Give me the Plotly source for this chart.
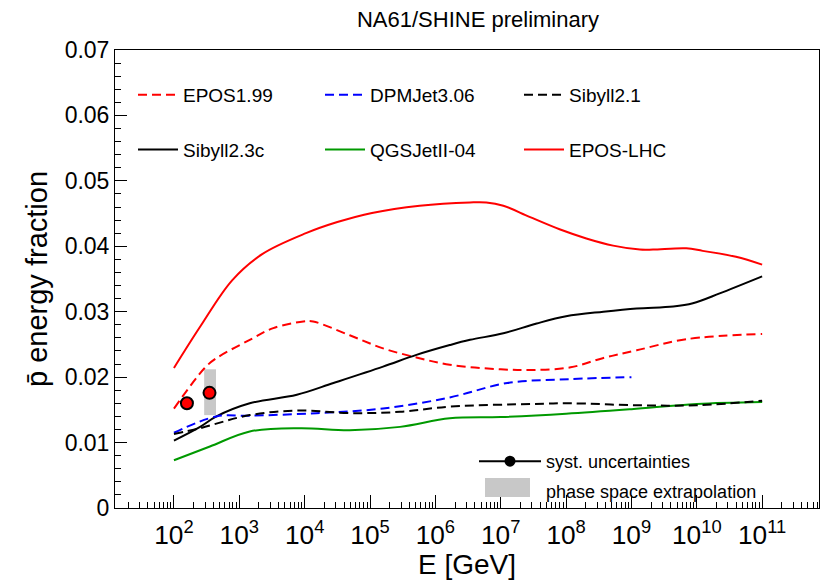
import numpy as np
import plotly.graph_objects as go

# log10(E / GeV) sampling points and antiproton energy fraction for each model
lgE_epos199 = [2.00, 2.47, 2.65, 3.16, 3.52, 3.98, 4.13, 4.69, 5.20, 5.71, 6.22, 7.0, 7.5, 8.07, 8.56, 9.08, 9.84, 11.0]
val_epos199 = [0.0152, 0.0214, 0.0229, 0.0257, 0.0275, 0.0285, 0.0285, 0.0264, 0.0244, 0.0230, 0.0219, 0.0212, 0.0211, 0.0215, 0.0229, 0.0241, 0.0258, 0.0266]

lgE_dpmjet = [2.00, 2.65, 3.16, 4.18, 5.20, 6.22, 7.1, 8.07, 9.0]
val_dpmjet = [0.0115, 0.0140, 0.0141, 0.0145, 0.0152, 0.0169, 0.0191, 0.0197, 0.0200]

lgE_sib21 = [2.00, 2.40, 3.16, 3.93, 4.69, 5.46, 6.22, 7.5, 8.07, 9.08, 10.0, 11.0]
val_sib21 = [0.0113, 0.0122, 0.0142, 0.0149, 0.0145, 0.0147, 0.0155, 0.0159, 0.0160, 0.0157, 0.0157, 0.0164]

lgE_sib23c = [2.00, 2.40, 2.65, 3.16, 3.88, 4.44, 5.20, 5.71, 6.22, 6.53, 7.04, 7.55, 8.00, 8.57, 9.08, 9.64, 9.94, 10.35, 11.0]
val_sib23c = [0.0103, 0.0124, 0.0140, 0.0160, 0.0173, 0.0191, 0.0216, 0.0234, 0.0249, 0.0257, 0.0267, 0.0282, 0.0293, 0.0300, 0.0305, 0.0308, 0.0313, 0.0328, 0.0354]

lgE_qgsjet = [2.00, 2.55, 3.16, 3.93, 4.69, 5.46, 6.22, 7.0, 8.0, 9.0, 10.0, 11.0]
val_qgsjet = [0.0073, 0.0094, 0.0117, 0.0122, 0.0119, 0.0124, 0.0137, 0.0139, 0.0144, 0.0151, 0.0159, 0.0162]

lgE_eposlhc = [2.00, 2.40, 2.89, 3.35, 4.02, 4.5, 5.03, 5.76, 6.53, 6.78, 7.04, 7.44, 7.90, 8.31, 8.72, 9.13, 9.33, 9.84, 10.09, 10.60, 11.0]
val_eposlhc = [0.0214, 0.0277, 0.0348, 0.0388, 0.0420, 0.0437, 0.0451, 0.0462, 0.0467, 0.0467, 0.0462, 0.0445, 0.0426, 0.0412, 0.0401, 0.0395, 0.0395, 0.0397, 0.0393, 0.0384, 0.0372]

# NA61/SHINE measurements
data_E = [158, 350]
data_val = [0.0160, 0.0176]

# phase-space extrapolation band at 350 GeV
band_E = [290, 440]
band_lo = 0.0142
band_hi = 0.0212

FONT = "Liberation Sans, Arial, sans-serif"
DASH = "9px,5px"
BAND_GREY = "#c8c8c8"

W, H = 827, 580
ml, mr, mt, mb = 115, 8, 50, 72
pw = W - ml - mr
ph = H - mt - mb


def px(xp):
    return (xp - ml) / pw


def py(yp):
    return (H - mb - yp) / ph


fig = go.Figure()

# extrapolation band (drawn first, below the curves)
fig.add_trace(go.Scatter(
    x=[band_E[0], band_E[1], band_E[1], band_E[0], band_E[0]],
    y=[band_lo, band_lo, band_hi, band_hi, band_lo],
    mode="lines", fill="toself", fillcolor=BAND_GREY,
    line=dict(width=0, color=BAND_GREY),
    showlegend=False, hoverinfo="skip"))

models = [
    ("EPOS1.99", lgE_epos199, val_epos199, "#ff0000", DASH, "legend", "g1"),
    ("Sibyll2.3c", lgE_sib23c, val_sib23c, "#000000", "solid", "legend", "g2"),
    ("DPMJet3.06", lgE_dpmjet, val_dpmjet, "#0000ff", DASH, "legend2", "g1"),
    ("QGSJetII-04", lgE_qgsjet, val_qgsjet, "#009900", "solid", "legend2", "g2"),
    ("Sibyll2.1", lgE_sib21, val_sib21, "#000000", DASH, "legend3", "g1"),
    ("EPOS-LHC", lgE_eposlhc, val_eposlhc, "#ff0000", "solid", "legend3", "g2"),
]
for name, lg, val, color, dash, leg, grp in models:
    fig.add_trace(go.Scatter(
        x=np.power(10.0, lg), y=val, mode="lines", name=name,
        line=dict(color=color, width=2, dash=dash, shape="spline", smoothing=1.0),
        legend=leg, legendgroup=grp))

# measured points
fig.add_trace(go.Scatter(
    x=data_E, y=data_val, mode="markers", showlegend=False,
    marker=dict(size=12, color="#ff0000", line=dict(color="#000000", width=2))))

# key entries for the measurement and the extrapolation band
fig.add_trace(go.Scatter(
    x=[None], y=[None], mode="lines+markers", name="syst. uncertainties",
    line=dict(color="#000000", width=2),
    marker=dict(size=11, color="#000000"),
    legend="legend4", legendgroup="b1", legendrank=1))
fig.add_trace(go.Scatter(
    x=[None], y=[None], mode="lines", name="phase space extrapolation",
    line=dict(color="rgba(0,0,0,0)", width=0),
    legend="legend4", legendgroup="b2", legendrank=2))

# grey swatch for the band key
fig.add_shape(type="rect", xref="paper", yref="paper",
              x0=px(485), x1=px(530), y0=py(497), y1=py(478),
              fillcolor=BAND_GREY, line=dict(width=0), layer="above")

leg_common = dict(font=dict(family=FONT, size=19, color="#000000"),
                  bgcolor="rgba(0,0,0,0)", tracegroupgap=27,
                  xanchor="left", yanchor="top", itemwidth=40)

fig.update_layout(
    width=W, height=H,
    margin=dict(l=ml, r=mr, t=mt, b=mb, autoexpand=False),
    paper_bgcolor="#ffffff", plot_bgcolor="#ffffff",
    font=dict(family=FONT, size=19, color="#000000"),
    title=dict(text="NA61/SHINE preliminary", x=478 / W, xanchor="center",
               y=1 - 19 / H, yanchor="middle", xref="container", yref="container",
               font=dict(family=FONT, size=22, color="#000000")),
    xaxis=dict(type="log", range=[1.098, 11.87], dtick=1, exponentformat="power",
               showgrid=False, zeroline=False, automargin=False,
               ticks="inside", ticklen=13, tickwidth=1, tickcolor="#000000",
               minor=dict(ticks="inside", ticklen=6, tickwidth=1, tickcolor="#000000", dtick="D1"),
               showline=True, linecolor="#000000", linewidth=1, mirror=True,
               tickfont=dict(family=FONT, size=21),
               ticklabelstandoff=5,
               title=dict(text="E [GeV]", font=dict(family=FONT, size=28), standoff=5)),
    yaxis=dict(range=[0, 0.07], dtick=0.01,
               showgrid=False, zeroline=False, automargin=False,
               ticks="inside", ticklen=12, tickwidth=1, tickcolor="#000000",
               minor=dict(ticks="inside", ticklen=6, tickwidth=1, tickcolor="#000000", dtick=0.002),
               showline=True, linecolor="#000000", linewidth=1, mirror=True,
               tickfont=dict(family=FONT, size=23),
               title=dict(text="p\u0304 energy fraction", font=dict(family=FONT, size=29), standoff=8)),
    legend=dict(x=px(133), y=py(76), **leg_common),
    legend2=dict(x=px(320), y=py(76), **leg_common),
    legend3=dict(x=px(519), y=py(76), **leg_common),
    legend4=dict(x=px(474), y=py(443), font=dict(family=FONT, size=18, color="#000000"),
                 bgcolor="rgba(0,0,0,0)", tracegroupgap=3, xanchor="left", yanchor="top",
                 itemwidth=62),
)

fig.write_html("out.html")
